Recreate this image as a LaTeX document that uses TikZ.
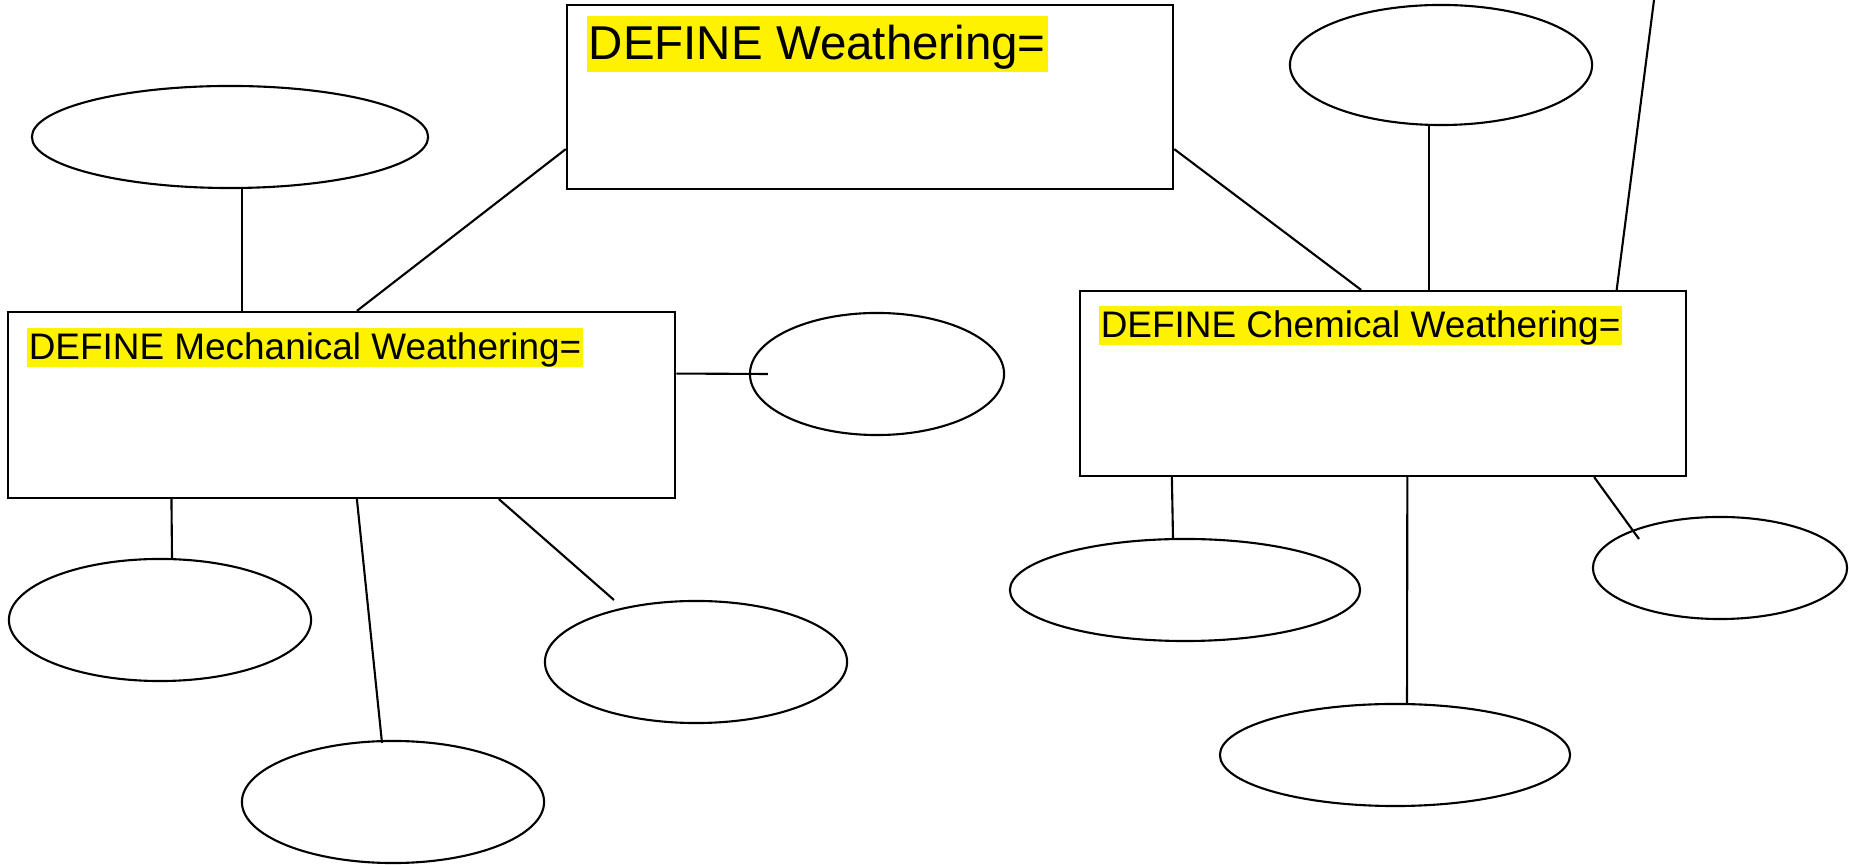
\documentclass[tikz,border=0pt]{standalone}
\usepackage{fontspec}
\setmainfont{Liberation Sans}
\usetikzlibrary{shapes.geometric, calc, positioning}

\tikzset{
    box/.style={draw, line width=0.6pt, inner sep=0pt},
    oval/.style={draw, ellipse, line width=0.6pt, inner sep=0pt},
    link/.style={line width=0.6pt},
    hl/.style={fill=yellow, inner xsep=0.6pt, inner ysep=0pt, anchor=north west,
               text height=9.1pt, text depth=2.2pt},
}

\begin{document}
\begin{tikzpicture}[x=0.01cm, y=-0.01cm]
\useasboundingbox (0,0) rectangle (1849,865);

% =========================================================
%  Boxes
% =========================================================
\node[box, minimum width=6.06cm, minimum height=1.84cm] (def) at (870,97) {};
\node[box, minimum width=6.67cm, minimum height=1.86cm] (mech) at (341.5,405) {};
\node[box, minimum width=6.06cm, minimum height=1.85cm] (chem) at (1383,383.5) {};

\node[hl, font=\fontsize{13.5}{16}\selectfont, text height=12.5pt, text depth=3.4pt]
    (tdef) at (586,15) {DEFINE Weathering=};
\node[hl, font=\fontsize{10.5}{12}\selectfont] (tmech) at (26,327) {DEFINE Mechanical Weathering=};
\node[hl, font=\fontsize{10.5}{12}\selectfont] (tchem) at (1098,305) {DEFINE Chemical Weathering=};

% =========================================================
%  Ovals
% =========================================================
\node[oval, minimum width=3.96cm, minimum height=1.02cm] (mtop) at (230,137) {};
\node[oval, minimum width=2.54cm, minimum height=1.22cm] (mright) at (877,374) {};
\node[oval, minimum width=3.02cm, minimum height=1.22cm] (mleft) at (160,620) {};
\node[oval, minimum width=3.02cm, minimum height=1.22cm] (mlow) at (393,802) {};
\node[oval, minimum width=3.02cm, minimum height=1.22cm] (mmid) at (696,662) {};

\node[oval, minimum width=3.02cm, minimum height=1.20cm] (ctop) at (1441,65) {};
\node[oval, minimum width=3.50cm, minimum height=1.02cm] (cleft) at (1185,590) {};
\node[oval, minimum width=3.50cm, minimum height=1.02cm] (clow) at (1395,755) {};
\node[oval, minimum width=2.54cm, minimum height=1.02cm] (cright) at (1720,568) {};

\coordinate (loose) at (1654,0);

% =========================================================
%  Connectors
% =========================================================
% top box to the two sub boxes
\draw[link] ($(def.north west)!0.78!(def.south west)$)
    -- ($(mech.north west)!0.523!(mech.north east)$);
\draw[link] ($(def.north east)!0.78!(def.south east)$)
    -- ($(chem.north west)!0.464!(chem.north east)$);

% mechanical side
\draw[link] ([xshift=0.12cm]mtop.south) -- ([xshift=0.12cm]mtop.south |- mech.north);
\draw[link] ($(mech.north east)!0.333!(mech.south east)$) -- ([xshift=0.19cm]mright.west);
\draw[link] ($(mech.south west)!0.246!(mech.south east)$) -- ([xshift=0.12cm]mleft.north);
\draw[link] ($(mech.south west)!0.523!(mech.south east)$) -- ([xshift=-0.11cm, yshift=-0.03cm]mlow.north);
\draw[link] ($(mech.south west)!0.735!(mech.south east)$) -- ($(mmid.center)+(-82,-62)$);

% chemical side
\draw[link] ([xshift=-0.12cm]ctop.south) -- ([xshift=-0.12cm]ctop.south |- chem.north);
\draw[link] (loose) -- ($(chem.north west)!0.884!(chem.north east)$);
\draw[link] ($(chem.south west)!0.153!(chem.south east)$) -- ([xshift=-0.12cm]cleft.north);
\draw[link] ($(chem.south west)!0.54!(chem.south east)$) -- ([xshift=0.12cm]clow.north);
\draw[link] ($(chem.south west)!0.847!(chem.south east)$) -- ($(cright.center)+(-81,-29)$);

\end{tikzpicture}
\end{document}
